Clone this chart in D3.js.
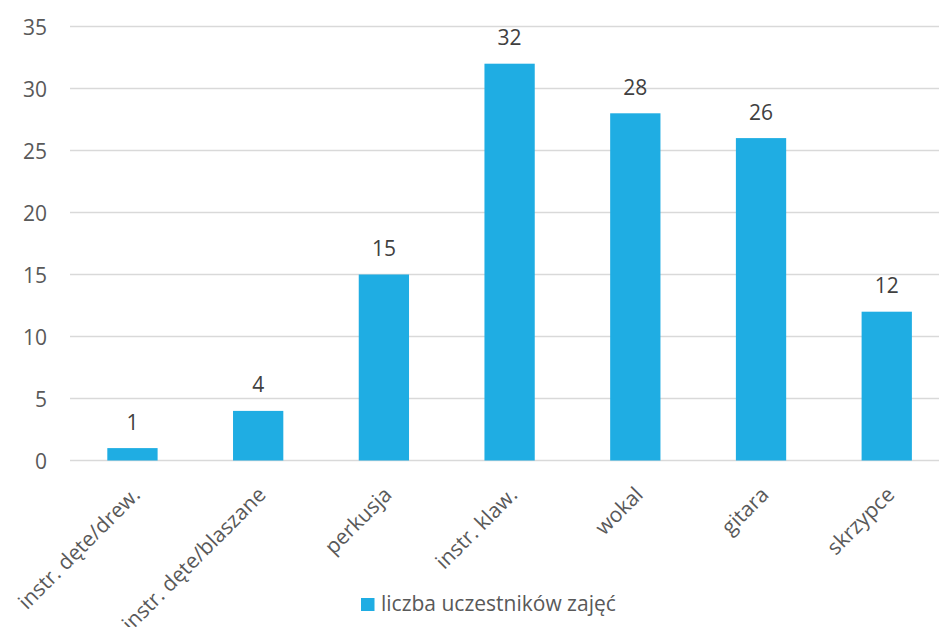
<!DOCTYPE html>
<html>
<head>
<meta charset="utf-8">
<script src="https://cdn.jsdelivr.net/npm/d3@7"></script>
<style>
  body { margin: 0; background: #fff; }
  svg text { font-family: "Open Sans", "Noto Sans", sans-serif; }
</style>
</head>
<body>
<svg id="chart" width="939" height="627"></svg>
<script>
const categories = ["instr. dęte/drew.", "instr. dęte/blaszane", "perkusja", "instr. klaw.", "wokal", "gitara", "skrzypce"];
const values = [1, 4, 15, 32, 28, 26, 12];
const yTicks = [0, 5, 10, 15, 20, 25, 30, 35];
const seriesName = "liczba uczestników zajęć";

const barColor = "#1fade3";
const fontSize = 21;
const svg = d3.select("#chart");

// plot runs past the right edge like the original crop
const x = d3.scaleBand().domain(categories).range([69.6, 949.6]).paddingInner(0.6).paddingOuter(0.3);
const y = d3.scaleLinear().domain([0, 35]).range([460.5, 26.5]);

// grid
svg.append("g")
    .selectAll("line")
    .data(yTicks)
    .join("line")
        .attr("x1", 70)
        .attr("x2", 939)
        .attr("y1", d => y(d))
        .attr("y2", d => y(d))
        .attr("stroke", "#d9d9d9")
        .attr("stroke-width", 1.5);

// y labels
svg.append("g")
    .selectAll("text")
    .data(yTicks)
    .join("text")
        .attr("x", 47)
        .attr("y", d => y(d))
        .attr("text-anchor", "end")
        .attr("dominant-baseline", "central")
        .attr("fill", "#595959")
        .attr("font-size", fontSize)
        .text(d => d);

// bars
svg.append("g")
    .selectAll("rect")
    .data(values)
    .join("rect")
        .attr("x", (d, i) => x(categories[i]))
        .attr("y", d => y(d))
        .attr("width", x.bandwidth())
        .attr("height", d => y(0) - y(d))
        .attr("fill", barColor);

// value labels
svg.append("g")
    .selectAll("text")
    .data(values)
    .join("text")
        .attr("x", (d, i) => x(categories[i]) + x.bandwidth() / 2)
        .attr("y", d => y(d) - 18.5)
        .attr("text-anchor", "middle")
        .attr("fill", "#404040")
        .attr("font-size", fontSize)
        .text(d => d);

// category labels
svg.append("g")
    .selectAll("text")
    .data(categories)
    .join("text")
        .attr("transform", d => "translate(" + (x(d) + x.bandwidth() / 2 + 9) + ",496) rotate(-45)")
        .attr("text-anchor", "end")
        .attr("fill", "#595959")
        .attr("font-size", fontSize)
        .text(d => d);

// legend
const legend = svg.append("g").attr("transform", "translate(361,598)");
legend.append("rect")
    .attr("width", 13.5)
    .attr("height", 13)
    .attr("fill", barColor);
legend.append("text")
    .attr("x", 20)
    .attr("y", 13)
    .attr("fill", "#595959")
    .attr("font-size", fontSize)
    .text(seriesName);
</script>
</body>
</html>
